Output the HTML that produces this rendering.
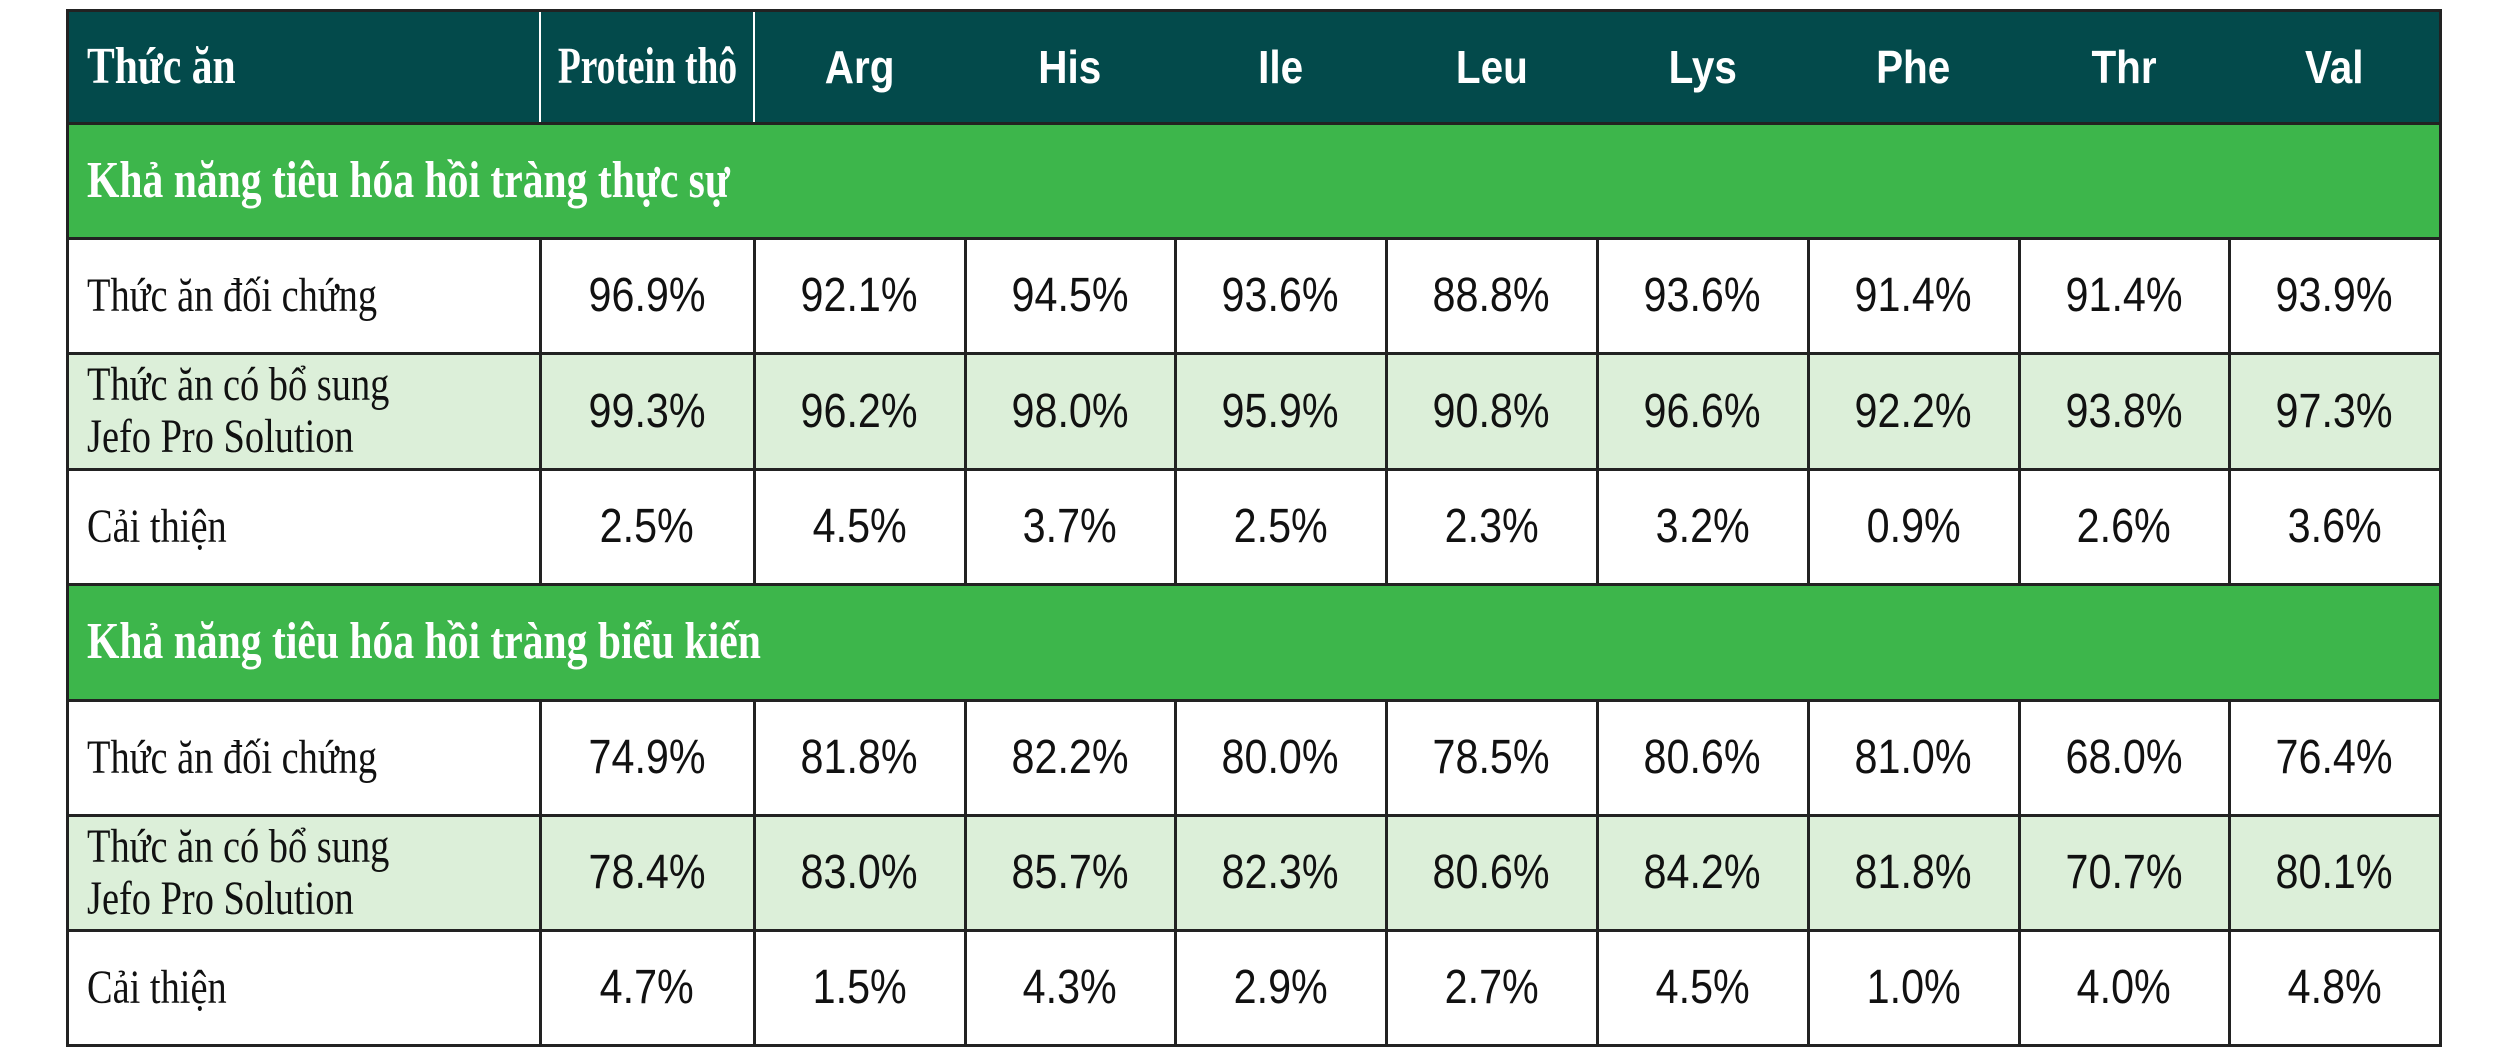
<!DOCTYPE html>
<html><head><meta charset="utf-8"><style>
body{margin:0;width:2504px;height:1053px;background:#fff;position:relative;overflow:hidden}
.c{position:absolute;box-sizing:border-box;display:flex;align-items:center;justify-content:center;white-space:nowrap}
.s{font-family:"Liberation Serif",serif;}
.n{font-family:"Liberation Sans",sans-serif;font-size:48px;color:#111}
.n span{display:inline-block;transform:scaleX(.86)}
.l{justify-content:flex-start;padding-left:20px;font-family:"Liberation Serif",serif;font-size:48px;color:#111}
.l span{display:inline-block;transform:scaleX(.8);transform-origin:left center;line-height:52px}
.hl{position:absolute;height:3px;background:#222;left:67px;width:2373px}
.vl{position:absolute;width:3px;background:#222}
</style></head><body>
<div style="position:absolute;left:67px;top:10px;width:2373px;height:113px;background:#034a4b"></div>
<div style="position:absolute;left:67px;top:123px;width:2373px;height:115px;background:#3db64b"></div>
<div style="position:absolute;left:67px;top:584px;width:2373px;height:116px;background:#3db64b"></div>
<div style="position:absolute;left:67px;top:353px;width:2373px;height:116px;background:#dcefd9"></div>
<div style="position:absolute;left:67px;top:815px;width:2373px;height:115px;background:#dcefd9"></div>
<div id="g"></div>
<script>
const X=[67,540,754,965,1175,1386,1597,1808,2019,2229,2440];
const heads=["Protein thô","Arg","His","Ile","Leu","Lys","Phe","Thr","Val"];
let h='';
h+=`<div class="c l" style="left:67px;top:10px;width:473px;height:113px;color:#fff;font-size:52px;font-weight:bold"><span>Thức ăn</span></div>`;
heads.forEach((t,i)=>{
 if(i==0) h+=`<div class="c s" style="left:${X[1]}px;top:10px;width:${X[2]-X[1]}px;height:113px;color:#fff;font-size:52px;font-weight:bold"><span style="display:inline-block;transform:scaleX(.72)">${t}</span></div>`;
 else h+=`<div class="c" style="left:${X[i+1]}px;top:10px;width:${X[i+2]-X[i+1]}px;height:113px;color:#fff;font-family:'Liberation Sans',sans-serif;font-weight:bold;font-size:46px"><span style="display:inline-block;transform:scaleX(.88)">${t}</span></div>`;
});
h+=`<div class="c l" style="left:67px;top:123px;width:1500px;height:115px;color:#fff;font-size:52px;font-weight:bold"><span>Khả năng tiêu hóa hồi tràng thực sự</span></div>`;
h+=`<div class="c l" style="left:67px;top:584px;width:1500px;height:116px;color:#fff;font-size:52px;font-weight:bold"><span>Khả năng tiêu hóa hồi tràng biểu kiến</span></div>`;
const rows=[
[238,353,"Thức ăn đối chứng",["96.9%","92.1%","94.5%","93.6%","88.8%","93.6%","91.4%","91.4%","93.9%"]],
[353,469,"Thức ăn có bổ sung<br>Jefo Pro Solution",["99.3%","96.2%","98.0%","95.9%","90.8%","96.6%","92.2%","93.8%","97.3%"]],
[469,584,"Cải thiện",["2.5%","4.5%","3.7%","2.5%","2.3%","3.2%","0.9%","2.6%","3.6%"]],
[700,815,"Thức ăn đối chứng",["74.9%","81.8%","82.2%","80.0%","78.5%","80.6%","81.0%","68.0%","76.4%"]],
[815,930,"Thức ăn có bổ sung<br>Jefo Pro Solution",["78.4%","83.0%","85.7%","82.3%","80.6%","84.2%","81.8%","70.7%","80.1%"]],
[930,1045,"Cải thiện",["4.7%","1.5%","4.3%","2.9%","2.7%","4.5%","1.0%","4.0%","4.8%"]]];
rows.forEach(r=>{
 h+=`<div class="c l" style="left:67px;top:${r[0]}px;width:473px;height:${r[1]-r[0]}px"><span>${r[2]}</span></div>`;
 r[3].forEach((v,i)=>{h+=`<div class="c n" style="left:${X[i+1]}px;top:${r[0]}px;width:${X[i+2]-X[i+1]}px;height:${r[1]-r[0]}px"><span>${v}</span></div>`;});
});
[10,123,238,353,469,584,700,815,930,1045].forEach(y=>h+=`<div class="hl" style="top:${y-1}px"></div>`);
X.forEach((x,i)=>{
 if(i==0||i==10){h+=`<div class="vl" style="left:${x-1}px;top:9px;height:1038px"></div>`;}
 else{
  const col=i<=2?'#fff':'#034a4b';
  h+=`<div class="vl" style="left:${x-1}px;top:12px;height:110px;width:2px;background:${col}"></div>`;
  h+=`<div class="vl" style="left:${x-1}px;top:238px;height:347px"></div>`;
  h+=`<div class="vl" style="left:${x-1}px;top:700px;height:346px"></div>`;
 }
});
document.getElementById('g').innerHTML=h;
</script>
</body></html>
